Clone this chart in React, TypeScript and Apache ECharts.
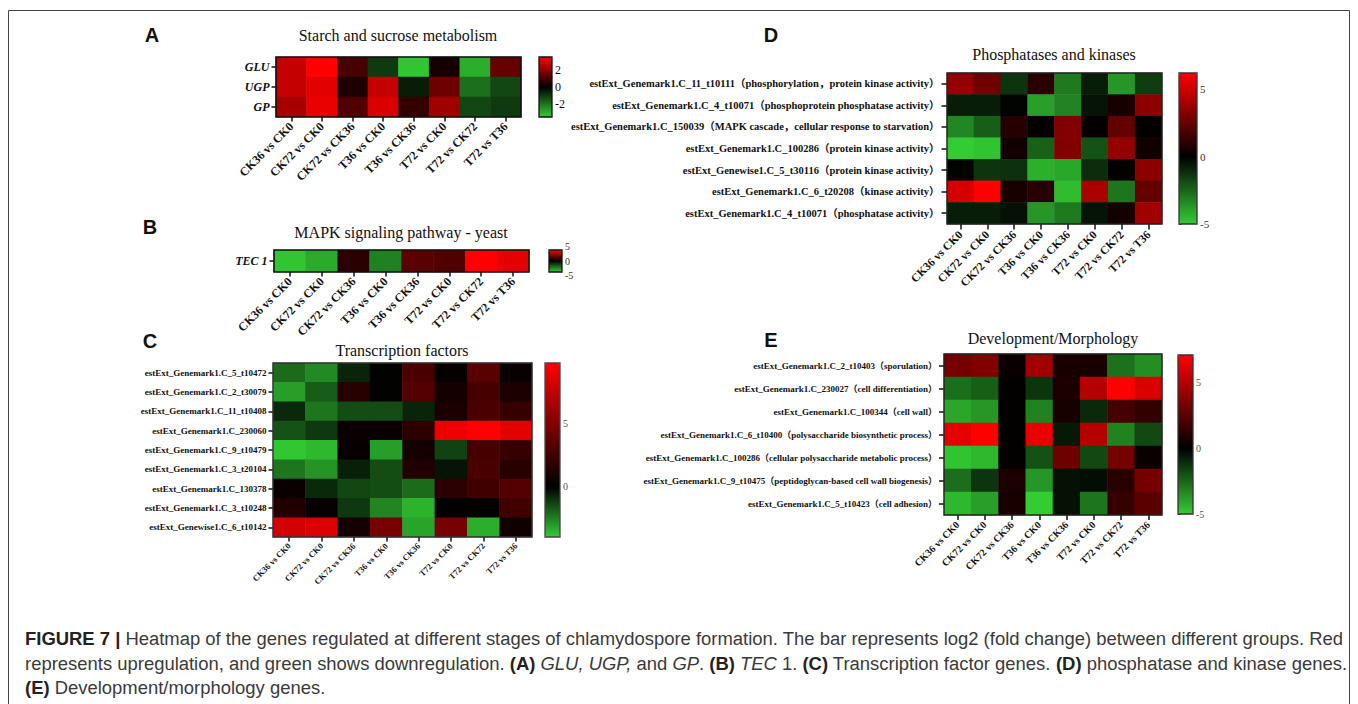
import React, { useEffect, useRef } from 'react';
import * as echarts from 'echarts';

// ---------- DATA ----------
const comparisons = ['CK36 vs CK0', 'CK72 vs CK0', 'CK72 vs CK36', 'T36 vs CK0', 'T36 vs CK36', 'T72 vs CK0', 'T72 vs CK72', 'T72 vs T36'];

const genesA = ['GLU', 'UGP', 'GP'];
const valuesA = [
  [2.7, 3.5, 1.0, -1.0, -3.4, 0.3, -3.0, 1.4],
  [2.7, 3.1, 0.4, 2.7, -0.5, 1.5, -1.9, -1.2],
  [2.3, 3.2, 1.1, 3.0, 0.7, 2.2, -1.2, -1.0],
];
const rangeA = [-3.5, 3.5];
const ticksA = [[-2, 0, 2]];

const genesB = ['TEC 1'];
const valuesB = [[-5.8, -5.0, 1.0, -3.8, 2.1, 1.9, 6.0, 5.4]];
const rangeB = [-6, 6];
const ticksB = [[5], [0], [-5]];

const genesC = [
  'estExt_Genemark1.C_5_t10472',
  'estExt_Genemark1.C_2_t30079',
  'estExt_Genemark1.C_11_t10408',
  'estExt_Genemark1.C_230060',
  'estExt_Genemark1.C_9_t10479',
  'estExt_Genemark1.C_3_t20104',
  'estExt_Genemark1.C_130378',
  'estExt_Genemark1.C_3_t10248',
  'estExt_Genewise1.C_6_t10142',
];
const valuesC = [
  [-2.1, -2.7, -0.7, 0.0, 2.9, 0.2, 3.5, 0.3],
  [-3.1, -1.8, 1.5, 0.0, 3.3, 0.8, 2.7, 1.0],
  [-0.8, -2.3, -1.5, -1.5, -0.7, 1.0, 2.9, 2.1],
  [-1.6, -1.1, 0.4, 0.4, 1.7, 9.2, 9.8, 8.8],
  [-3.9, -3.6, 0.2, -3.1, 0.8, -1.3, 2.7, 2.1],
  [-2.3, -2.9, -0.6, -1.5, 1.2, -0.4, 2.9, 1.5],
  [0.4, -0.8, -1.4, -1.5, -2.1, 1.7, 2.5, 3.3],
  [1.3, 0.2, -1.1, -2.6, -3.5, 0.1, 0.1, 2.5],
  [8.1, 8.5, 0.8, 4.6, -3.2, 4.6, -3.4, 0.6],
];
const rangeC = [-4, 9.8];
const ticksC = [[0, 5]];

const genesD = [
  'estExt_Genemark1.C_11_t10111（phosphorylation，protein kinase activity）',
  'estExt_Genemark1.C_4_t10071（phosphoprotein phosphatase activity）',
  'estExt_Genemark1.C_150039（MAPK cascade，cellular response to starvation）',
  'estExt_Genemark1.C_100286（protein kinase activity）',
  'estExt_Genewise1.C_5_t30116（protein kinase activity）',
  'estExt_Genemark1.C_6_t20208（kinase activity）',
  'estExt_Genemark1.C_4_t10071（phosphatase activity）',
];
const valuesD = [
  [3.6, 2.7, -1.3, 1.0, -3.0, -0.7, -3.7, -1.5],
  [-0.7, -0.7, -0.1, -3.9, -3.2, -0.5, 0.6, 3.4],
  [-3.3, -2.3, 0.9, 0.1, 3.2, 0.1, 2.4, 0.1],
  [-5.0, -4.8, 0.4, -2.4, 3.2, -2.0, 3.6, 0.4],
  [-0.1, -1.3, -1.2, -4.3, -4.1, -1.1, 0.1, 3.4],
  [5.2, 6.2, 0.6, 1.0, -4.6, 4.1, -2.9, 2.4],
  [-0.7, -0.7, -0.4, -3.7, -3.0, -0.5, 0.5, 3.9],
];
const rangeD = [-5, 6.2];
const ticksD = [[-5, 0, 5]];

const genesE = [
  'estExt_Genemark1.C_2_t10403（sporulation）',
  'estExt_Genemark1.C_230027（cell differentiation）',
  'estExt_Genemark1.C_100344（cell wall）',
  'estExt_Genemark1.C_6_t10400（polysaccharide biosynthetic process）',
  'estExt_Genemark1.C_100286（cellular polysaccharide metabolic process）',
  'estExt_Genemark1.C_9_t10475（peptidoglycan-based cell wall biogenesis）',
  'estExt_Genemark1.C_5_t10423（cell adhesion）',
];
const valuesE = [
  [3.3, 3.6, 0.3, 4.5, 0.7, 0.7, -2.8, -3.5],
  [-2.7, -2.3, 0.1, -1.3, 0.8, 5.0, 7.1, 6.1],
  [-4.1, -3.7, 0.1, -3.2, 0.7, -1.0, 1.9, 1.4],
  [6.4, 7.1, 0.1, 6.5, -0.6, 5.0, -3.2, -1.8],
  [-4.8, -4.5, 0.1, -2.0, 3.1, -1.8, 3.3, 0.3],
  [-2.7, -1.3, 0.8, -3.7, -0.4, -0.3, 1.1, 3.3],
  [-4.5, -3.9, 0.7, -5.0, -0.4, -2.9, 1.5, 2.5],
];
const rangeE = [-5, 7.1];
const ticksE = [[-5, 0, 5]];

const titles = ['Starch and sucrose metabolism', 'MAPK signaling pathway - yeast', 'Transcription factors', 'Phosphatases and kinases', 'Development/Morphology'];
const letters = ['A', 'B', 'C', 'D', 'E'];

const captionLines = [
  '{b|FIGURE 7 |} Heatmap of the genes regulated at different stages of chlamydospore formation. The bar represents log2 (fold change) between different groups. Red',
  'represents upregulation, and green shows downregulation. {b|(A)} {i|GLU, UGP,} and {i|GP}. {b|(B)} {i|TEC} 1. {b|(C)} Transcription factor genes. {b|(D)} phosphatase and kinase genes.',
  '{b|(E)} Development/morphology genes.',
];

// ---------- LAYOUT / STYLE ----------
const SERIF = "'Liberation Serif', 'Noto Sans CJK SC', serif";
const SANS = "'Liberation Sans', Arial, sans-serif";
const CAP = 18.45;

const panels = [
  { genes: genesA, values: valuesA, range: rangeA, ticks: ticksA, tickAlign: ['middle'],
    grid: { left: 276, top: 57, width: 245, height: 60 }, bar: { left: 539, top: 57, width: 13, height: 60 },
    yFont: 12, yItalic: true, xFont: 12, barFont: 12, tick: 4.5, border: '#111', bw: 1.6, barBorder: '#111', barLabelColor: '#111',
    letter: [152, 35], title: [398, 35] },
  { genes: genesB, values: valuesB, range: rangeB, ticks: ticksB, tickAlign: ['bottom', 'middle', 'top'],
    grid: { left: 274, top: 250, width: 255, height: 22 }, bar: { left: 549, top: 250, width: 13, height: 22 },
    yFont: 12, yItalic: true, xFont: 12, barFont: 10, tick: 4.5, border: '#111', bw: 1.6, barBorder: '#111', barLabelColor: '#333',
    letter: [150, 227], title: [401, 232] },
  { genes: genesC, values: valuesC, range: rangeC, ticks: ticksC, tickAlign: ['middle'],
    grid: { left: 273, top: 363, width: 259, height: 174 }, bar: { left: 545, top: 363, width: 15, height: 174 },
    yFont: 9, yItalic: false, xFont: 8.5, barFont: 10, tick: 4.5, border: '#333', bw: 1.4, barBorder: '#444', barLabelColor: '#555',
    letter: [150, 341], title: [402, 350] },
  { genes: genesD, values: valuesD, range: rangeD, ticks: ticksD, tickAlign: ['middle'],
    grid: { left: 947, top: 73, width: 215, height: 151 }, bar: { left: 1179, top: 73, width: 18, height: 151 },
    yFont: 10.5, yItalic: false, xFont: 11.5, barFont: 11, tick: 5.5, border: '#222', bw: 1.4, barBorder: '#333', barLabelColor: '#333',
    letter: [771, 35], title: [1054, 54] },
  { genes: genesE, values: valuesE, range: rangeE, ticks: ticksE, tickAlign: ['middle'],
    grid: { left: 944, top: 354, width: 218, height: 161 }, bar: { left: 1178, top: 355, width: 15, height: 159 },
    yFont: 9, yItalic: false, xFont: 10, barFont: 10, tick: 5, border: '#222', bw: 1.4, barBorder: '#333', barLabelColor: '#555',
    letter: [771, 340], title: [1053, 338] },
];

const GREEN = [51, 204, 51];
const RED = [255, 0, 0];
function ramp(min: number, max: number, n: number): string[] {
  const out: string[] = [];
  for (let i = 0; i < n; i++) {
    const v = min + ((max - min) * i) / (n - 1);
    let c: number[];
    if (v < 0) {
      const t = v / min;
      c = GREEN.map((k) => Math.round(k * t));
    } else {
      const t = v / max;
      c = RED.map((k) => Math.round(k * t));
    }
    out.push(`rgb(${c[0]},${c[1]},${c[2]})`);
  }
  return out;
}

function buildOption() {
  const grid: any[] = [];
  const xAxis: any[] = [];
  const yAxis: any[] = [];
  const series: any[] = [];
  const visualMap: any[] = [];
  const graphic: any[] = [];

  panels.forEach((p, i) => {
    grid.push({ ...p.grid, show: true, borderColor: p.border, borderWidth: p.bw, backgroundColor: 'rgba(0,0,0,0)', z: 10, containLabel: false, outerBoundsMode: 'none' });
    xAxis.push({
      type: 'category', gridIndex: i, data: comparisons, position: 'bottom',
      axisLine: { show: false },
      axisTick: { show: true, alignWithLabel: true, interval: 0, length: p.tick, lineStyle: { color: '#111', width: 1.5 } },
      axisLabel: { interval: 0, rotate: 45, margin: p.tick + 3, fontFamily: SERIF, fontWeight: 'bold', fontSize: p.xFont, color: '#111', hideOverlap: false },
      splitLine: { show: false },
    });
    yAxis.push({
      type: 'category', gridIndex: i, data: p.genes, inverse: true, position: 'left',
      axisLine: { show: false },
      axisTick: { show: true, alignWithLabel: true, interval: 0, length: p.tick, lineStyle: { color: '#111', width: 1.5 } },
      axisLabel: { interval: 0, margin: p.tick + 2, fontFamily: SERIF, fontWeight: 'bold', fontStyle: p.yItalic ? 'italic' : 'normal', fontSize: p.yFont, color: '#111', hideOverlap: false },
      splitLine: { show: false },
    });

    const data: number[][] = [];
    p.values.forEach((row, r) => row.forEach((v, c) => data.push([c, r, v])));
    series.push({
      type: 'heatmap', xAxisIndex: i, yAxisIndex: i, data,
      itemStyle: { borderWidth: 0 }, emphasis: { disabled: true }, progressive: 0,
    });
    visualMap.push({
      type: 'continuous', seriesIndex: i, min: p.range[0], max: p.range[1], calculable: false, show: true,
      orient: 'vertical', left: p.bar.left, top: p.bar.top, itemWidth: p.bar.width, itemHeight: p.bar.height,
      padding: 0, hoverLink: false, inRange: { color: ramp(p.range[0], p.range[1], 61) },
    });

    graphic.push({
      type: 'text', x: p.letter[0], y: p.letter[1],
      style: { text: letters[i], font: `bold 20px ${SANS}`, fill: '#111', align: 'center', verticalAlign: 'middle' },
    });
    graphic.push({
      type: 'text', x: p.title[0], y: p.title[1],
      style: { text: titles[i], font: `16px ${SERIF}`, fill: '#111', align: 'center', verticalAlign: 'middle' },
    });
  });

  // colour-bar scales (one grid per tick group so that closely stacked labels all show)
  panels.forEach((p) => {
    p.ticks.forEach((group, k) => {
      const gi = grid.length;
      grid.push({ ...p.bar, show: k === 0, borderColor: p.barBorder, borderWidth: 1.3, backgroundColor: 'rgba(0,0,0,0)', z: 10, containLabel: false, outerBoundsMode: 'none' });
      xAxis.push({ type: 'value', gridIndex: gi, show: false, min: 0, max: 1 });
      yAxis.push({
        type: 'value', gridIndex: gi, position: 'right', min: p.range[0], max: p.range[1],
        axisLine: { show: false }, splitLine: { show: false },
        axisTick: { show: true, customValues: group, length: 2.5, lineStyle: { color: '#333', width: 1 } },
        axisLabel: {
          customValues: group, margin: 3, fontFamily: SERIF, fontSize: p.barFont, color: p.barLabelColor,
          verticalAlign: p.tickAlign[k], lineHeight: p.barFont, hideOverlap: false, showMinLabel: true, showMaxLabel: true,
        },
      });
    });
  });

  graphic.push({
    type: 'rect', shape: { x: 8.5, y: 10.5, width: 1341, height: 720 },
    style: { fill: 'none', stroke: '#444', lineWidth: 1 }, silent: true,
  });

  const capY = [638, 663, 687];
  captionLines.forEach((t, k) => {
    graphic.push({
      type: 'text', x: 25, y: capY[k],
      style: {
        text: t, fontSize: CAP, fontFamily: SANS, fill: '#3a3a3a', align: 'left', verticalAlign: 'middle',
        rich: {
          b: { fontSize: CAP, fontFamily: SANS, fontWeight: 'bold', fill: '#222' },
          i: { fontSize: CAP, fontFamily: SANS, fontStyle: 'italic', fill: '#3a3a3a' },
        },
      },
    });
  });

  return { animation: false, backgroundColor: '#fff', grid, xAxis, yAxis, series, visualMap, graphic };
}

export default function App() {
  const ref = useRef<HTMLDivElement>(null);
  useEffect(() => {
    if (!ref.current) return;
    const chart = echarts.init(ref.current, null, { renderer: 'svg' });
    chart.setOption(buildOption() as any);
    return () => chart.dispose();
  }, []);
  return <div ref={ref} style={{ position: 'absolute', left: 0, top: 0, width: 1358, height: 704, background: '#fff' }} />;
}
